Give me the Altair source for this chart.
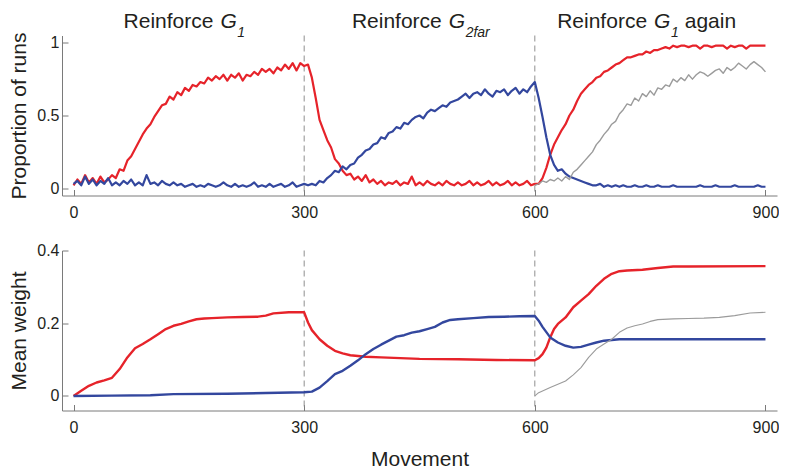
import altair as alt
import pandas as pd

STEP = 5
MOVE_TICKS = [0, 300, 600, 900]
SWITCHES = [300, 600]

# ---- top panel: proportion of runs, every 5 movements from t=0 ----
prop_g1 = [
    0.02, 0.06, 0.03, 0.09, 0.04, 0.07, 0.03, 0.08, 0.04, 0.06,
    0.09, 0.07, 0.13, 0.12, 0.19, 0.22, 0.27, 0.32, 0.37, 0.41,
    0.44, 0.49, 0.53, 0.57, 0.58, 0.63, 0.61, 0.66, 0.64, 0.69,
    0.67, 0.71, 0.70, 0.73, 0.72, 0.76, 0.74, 0.77, 0.75, 0.78,
    0.74, 0.78, 0.76, 0.79, 0.74, 0.78, 0.77, 0.80, 0.78, 0.82,
    0.80, 0.82, 0.79, 0.83, 0.81, 0.85, 0.82, 0.86, 0.81, 0.86,
    0.84, 0.85, 0.76, 0.62, 0.47, 0.40, 0.33, 0.28, 0.20, 0.17,
    0.12, 0.09, 0.10, 0.06, 0.08, 0.05, 0.09, 0.04, 0.06, 0.03,
    0.05, 0.02, 0.04, 0.03, 0.05, 0.02, 0.04, 0.03, 0.08, 0.02,
    0.04, 0.02, 0.05, 0.03, 0.02, 0.04, 0.02, 0.05, 0.03, 0.02,
    0.04, 0.02, 0.03, 0.05, 0.02, 0.04, 0.02, 0.03, 0.05, 0.02,
    0.04, 0.02, 0.03, 0.05, 0.02, 0.04, 0.02, 0.03, 0.05, 0.02,
    0.03, 0.03, 0.07, 0.14, 0.23, 0.30, 0.35, 0.40, 0.44, 0.50,
    0.54, 0.60, 0.65, 0.68, 0.71, 0.73, 0.76, 0.77, 0.80, 0.81,
    0.83, 0.85, 0.86, 0.88, 0.90, 0.90, 0.91, 0.92, 0.92, 0.94,
    0.93, 0.95, 0.95, 0.96, 0.97, 0.96, 0.98, 0.97, 0.98, 0.98,
    0.97, 0.98, 0.98, 0.96, 0.98, 0.98, 0.97, 0.98, 0.98, 0.98,
    0.96, 0.98, 0.97, 0.98, 0.98, 0.96, 0.98, 0.98, 0.98, 0.98,
    0.98,
]
prop_g2far = [
    0.03, 0.05, 0.02, 0.08, 0.03, 0.06, 0.02, 0.05, 0.03, 0.07,
    0.02, 0.04, 0.02, 0.05, 0.03, 0.06, 0.02, 0.04, 0.02, 0.09,
    0.03, 0.04, 0.02, 0.05, 0.03, 0.02, 0.04, 0.02, 0.03, 0.01,
    0.02, 0.03, 0.01, 0.02, 0.01, 0.03, 0.02, 0.01, 0.02, 0.04,
    0.02, 0.01, 0.03, 0.01, 0.02, 0.01, 0.02, 0.04, 0.01, 0.02,
    0.01, 0.03, 0.01, 0.02, 0.03, 0.01, 0.02, 0.04, 0.01, 0.02,
    0.03, 0.02, 0.03, 0.02, 0.05, 0.04, 0.07, 0.09, 0.12, 0.11,
    0.15, 0.13, 0.16, 0.17, 0.21, 0.23, 0.26, 0.27, 0.30, 0.31,
    0.35, 0.34, 0.38, 0.39, 0.42, 0.41, 0.45, 0.44, 0.47, 0.49,
    0.50, 0.48, 0.52, 0.54, 0.53, 0.55, 0.57, 0.56, 0.59, 0.60,
    0.61, 0.63, 0.65, 0.62, 0.65, 0.66, 0.64, 0.68, 0.65, 0.63,
    0.67, 0.66, 0.68, 0.64, 0.67, 0.69, 0.65, 0.68, 0.66, 0.70,
    0.73, 0.62, 0.49, 0.35, 0.23, 0.16, 0.12, 0.13, 0.10, 0.08,
    0.07, 0.06, 0.05, 0.04, 0.03, 0.02, 0.02, 0.03, 0.01, 0.02,
    0.01, 0.02, 0.01, 0.02, 0.01, 0.01, 0.02, 0.01, 0.01, 0.02,
    0.01, 0.01, 0.02, 0.01, 0.01, 0.01, 0.02, 0.01, 0.01, 0.01,
    0.01, 0.01, 0.01, 0.02, 0.01, 0.01, 0.01, 0.02, 0.01, 0.01,
    0.01, 0.01, 0.02, 0.01, 0.01, 0.01, 0.01, 0.01, 0.02, 0.01,
    0.01,
]
GRAY_START = 600
prop_other = [
    0.02, 0.03, 0.05, 0.04, 0.06, 0.05, 0.07, 0.05, 0.08, 0.06,
    0.11, 0.13, 0.16, 0.19, 0.22, 0.25, 0.30, 0.33, 0.37, 0.40,
    0.44, 0.46, 0.51, 0.54, 0.58, 0.57, 0.62, 0.60, 0.65, 0.63,
    0.67, 0.64, 0.69, 0.68, 0.71, 0.70, 0.75, 0.73, 0.76, 0.74,
    0.78, 0.75, 0.78, 0.80, 0.79, 0.77, 0.79, 0.81, 0.82, 0.79,
    0.83, 0.81, 0.83, 0.86, 0.84, 0.82, 0.85, 0.87, 0.85, 0.83,
    0.80,
]

# ---- bottom panel: mean weight ----
w_g1_t = [0, 10, 20, 30, 40, 50, 60, 70, 80, 90,
          100, 110, 120, 130, 140, 150, 160, 170, 180,
          200, 220, 240, 250, 260, 280, 300,
          305, 310, 320, 330, 340, 350, 360, 380, 400, 450,
          500, 550, 600,
          605, 610, 615, 620, 625, 630,
          640, 650, 660, 670, 680, 690, 700, 710, 720,
          740, 760, 780, 800, 900]
w_g1 = [0.0, 0.014, 0.028, 0.037, 0.043, 0.05, 0.074, 0.106, 0.131, 0.143,
        0.156, 0.170, 0.184, 0.193, 0.198, 0.205, 0.211, 0.213, 0.214,
        0.216, 0.217, 0.218, 0.221, 0.227, 0.230, 0.230,
        0.202, 0.181, 0.156, 0.138, 0.124, 0.117, 0.112, 0.108, 0.106, 0.102,
        0.101, 0.099, 0.098,
        0.104, 0.115, 0.133, 0.161, 0.184, 0.198,
        0.216, 0.244, 0.262, 0.280, 0.303, 0.322, 0.336, 0.343, 0.345,
        0.347, 0.352, 0.356, 0.356, 0.357]
w_g2_t = [0, 50, 100, 130, 200, 250, 300,
          310, 320, 330, 340, 350, 360, 370, 380, 390, 400,
          410, 420, 430, 440, 450, 460, 470, 480, 490, 500,
          520, 540, 560, 580, 600,
          605, 610,
          620, 630, 640, 650, 660, 670, 680, 690, 700, 710,
          750, 900]
w_g2 = [0.0, 0.001, 0.002, 0.005, 0.006, 0.008, 0.010,
        0.012, 0.023, 0.041, 0.060, 0.069, 0.083, 0.098, 0.115, 0.129, 0.141,
        0.152, 0.163, 0.167, 0.174, 0.178, 0.184, 0.190, 0.202, 0.209, 0.211,
        0.214, 0.217, 0.218, 0.219, 0.220,
        0.207, 0.190,
        0.161, 0.147, 0.138, 0.133, 0.135, 0.141, 0.147, 0.152, 0.154, 0.156,
        0.156, 0.156]
w_other_t = [600, 605, 620, 640, 650, 660, 670, 680, 690, 700, 710, 720,
             730, 740, 750, 760, 780, 800, 820, 840, 860, 880, 900]
w_other = [0.0, 0.009, 0.023, 0.041, 0.058, 0.078, 0.106, 0.129, 0.143, 0.156,
           0.175, 0.187, 0.193, 0.198, 0.205, 0.210, 0.212, 0.213, 0.214,
           0.216, 0.221, 0.228, 0.230]

# ---- titles above the panels (anchors in movement units) ----
title_main_x = [182, 479, 746]
title_g_x = [191, 488, 755]
title_sub_x = [213, 510, 777]
title_sub = ["1", "2far", "1"]
title_tail_x = [795]
title_tail = ["again"]

# ---- style ----
W, H = 715, 160
XDOM = [-15, 915]
RED = "#e6232a"
BLUE = "#33479e"
GRAY = "#9b9b9b"
AXC = "#7a7a7a"
TXT = "#231f20"
FONT = "Liberation Sans"


def sampled(vals, start):
    return pd.DataFrame({"t": [start + STEP * i for i in range(len(vals))], "v": vals})


def pairs(ts, vs):
    return pd.DataFrame({"t": ts, "v": vs})


xs = alt.Scale(domain=XDOM, nice=False, zero=False)


def panel(series, ydom, yticks, ytitle, xtitle, extra=()):
    ys = alt.Scale(domain=ydom, nice=False, zero=False)
    x_kw = dict(values=MOVE_TICKS, ticks=False, grid=False, domainColor=AXC,
                labelFontSize=16, labelColor=TXT, labelFont=FONT, labelPadding=9,
                titleFontSize=21, titleFontWeight="normal", titleColor=TXT,
                titleFont=FONT, titlePadding=13, orient="bottom")
    x_main = alt.X("t:Q", scale=xs, axis=alt.Axis(**x_kw), title=xtitle)
    y_main = alt.Y("v:Q", scale=ys, title=ytitle,
                   axis=alt.Axis(values=yticks, format="~g", ticks=False, grid=False,
                                 orient="left",
                                 domainColor=AXC, labelFontSize=16, labelColor=TXT,
                                 labelFont=FONT, labelPadding=3,
                                 titleFontSize=21, titleFontWeight="normal",
                                 titleColor=TXT, titleFont=FONT, titlePadding=7))
    x_ticks = alt.X("t:Q", scale=xs, title=None,
                    axis=alt.Axis(orient="top", offset=-H, values=MOVE_TICKS,
                                  labels=False, domain=False, grid=False,
                                  tickSize=6, tickColor=AXC))
    y_ticks = alt.Y("v:Q", scale=ys, title=None,
                    axis=alt.Axis(orient="right", offset=-W, values=yticks,
                                  labels=False, domain=False, grid=False,
                                  tickSize=6, tickColor=AXC))
    x_plain = alt.X("t:Q", scale=xs, axis=None)
    y_plain = alt.Y("v:Q", scale=ys, axis=None)

    rules = alt.Chart(pd.DataFrame({"t": SWITCHES})).mark_rule(
        color="#8f8f8f", strokeWidth=1, strokeDash=[6, 4]).encode(x=x_plain)

    layers = [rules]
    for i, (df, color, width) in enumerate(series):
        if i == 0:
            enc = dict(x=x_main, y=y_main)
        elif i == 1:
            enc = dict(x=x_ticks, y=y_ticks)
        else:
            enc = dict(x=x_plain, y=y_plain)
        layers.append(alt.Chart(df).mark_line(color=color, strokeWidth=width,
                                              strokeJoin="round").encode(**enc))
    layers.extend(extra)
    return alt.layer(*layers).resolve_axis(x="independent", y="independent").properties(
        width=W, height=H)


# title text layers (top panel)
def text_layer(xv, texts, yoff, size, style, align):
    df = pd.DataFrame({"x": xv, "label": texts})
    return alt.Chart(df).mark_text(font=FONT, fontSize=size, fontStyle=style,
                                   align=align, baseline="alphabetic", color=TXT).encode(
        x=alt.X("x:Q", scale=xs, axis=None), y=alt.value(yoff), text="label:N")


titles = [
    text_layer(title_main_x, ["Reinforce"] * 3, -7.5, 21, "normal", "right"),
    text_layer(title_g_x, ["G"] * 3, -7.5, 21, "italic", "left"),
    text_layer(title_sub_x, title_sub, 1.5, 14, "italic", "left"),
    text_layer(title_tail_x, title_tail, -7.5, 21, "normal", "left"),
]

top = panel(
    [(sampled(prop_g1, 0), RED, 2.2),
     (sampled(prop_g2far, 0), BLUE, 2.2),
     (sampled(prop_other, GRAY_START), GRAY, 1.4)],
    [-0.05, 1.05], [0, 0.5, 1], "Proportion of runs", None, extra=titles)

bottom = panel(
    [(pairs(w_g1_t, w_g1), RED, 2.4),
     (pairs(w_g2_t, w_g2), BLUE, 2.4),
     (pairs(w_other_t, w_other), GRAY, 1.1)],
    [-0.04, 0.4], [0, 0.2, 0.4], "Mean weight", "Movement")

chart = alt.vconcat(top, bottom, spacing=22).properties(
    padding={"left": 0, "top": 2.5, "right": 0, "bottom": 0}
).configure_view(stroke=None)

chart.save("out.html", embed_options={"renderer": "svg", "actions": False})
